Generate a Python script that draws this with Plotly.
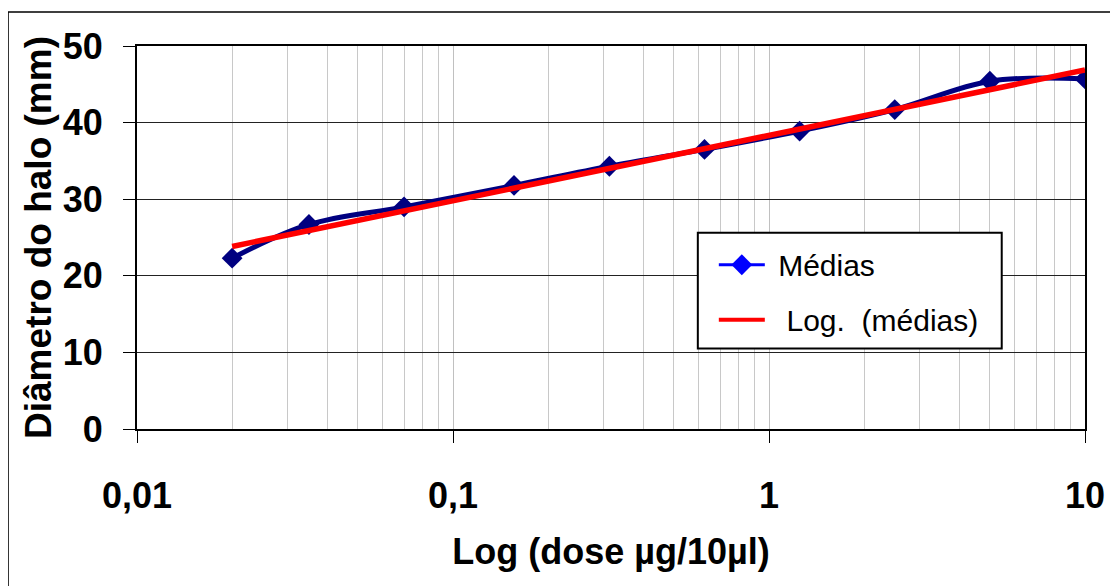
import numpy as np
import plotly.graph_objects as go

# ---- data ----
dose = [0.02, 0.035, 0.07, 0.156, 0.3125, 0.625, 1.25, 2.5, 5, 10]
medias = [22.3, 26.7, 29.0, 31.8, 34.3, 36.5, 38.9, 41.7, 45.4, 45.7]
x_tickvals = [0.01, 0.1, 1, 10]
x_ticktext = ["0,01", "0,1", "1", "10"]
y_tickvals = [0, 10, 20, 30, 40, 50]

# logarithmic trend line (least squares on ln(x)), like the spreadsheet's "Log." trendline
a, b = np.polyfit(np.log(dose), medias, 1)
trend_x = [min(dose), max(dose)]
trend_y = [a * np.log(v) + b for v in trend_x]

FONT = "Arial, 'Liberation Sans', sans-serif"
OFF = 8  # browser body margin
W, H = 1118 - OFF, 586 - OFF
# plot area in page pixels: x 137..1085.3, y 46..429.5
ML = 137 - OFF
MT = 46 - OFF
MR = W - (1085.3 - OFF)
MB = H - (429.5 - OFF)
PW, PH = W - ML - MR, H - MT - MB


def px(xpage):
    return (xpage - OFF - ML) / PW


def py(ypage):
    return (H - MB - (ypage - OFF)) / PH


fig = go.Figure()

# data series (drawn), no legend
fig.add_trace(go.Scatter(
    x=dose, y=medias, mode="lines+markers", name="Médias", showlegend=False,
    line=dict(color="#000080", width=5, shape="spline", smoothing=1),
    marker=dict(symbol="diamond", size=16, color="#000080"),
))
fig.add_trace(go.Scatter(
    x=trend_x, y=trend_y, mode="lines", name="Log. (médias)", showlegend=False,
    line=dict(color="#FF0000", width=5.5),
))

# legend entries (legend swatches use brighter colours in the reference)
fig.add_trace(go.Scatter(
    x=[None], y=[None], mode="lines+markers", name="\u00a0Médias", legendgroup="a",
    line=dict(color="#0000FF", width=3),
    marker=dict(symbol="diamond", size=22, color="#0000FF"),
))
fig.add_trace(go.Scatter(
    x=[None], y=[None], mode="lines", name="\u00a0\u00a0Log.\u00a0\u00a0(médias)", legendgroup="b",
    line=dict(color="#FF0000", width=4),
))

fig.update_layout(
    width=W, height=H,
    margin=dict(l=ML, r=MR, t=MT, b=MB, autoexpand=False),
    paper_bgcolor="white", plot_bgcolor="white",
    font=dict(family=FONT, color="black"),
    showlegend=True,
    legend=dict(
        x=px(714), y=py(239), xanchor="left", yanchor="top",
        bgcolor="rgba(0,0,0,0)", borderwidth=0,
        font=dict(family=FONT, size=30, color="black"),
        itemwidth=46, tracegroupgap=13, traceorder="grouped",
    ),
    xaxis=dict(
        type="log", range=[-2, 1],
        tickvals=x_tickvals, ticktext=x_ticktext,
        ticks="outside", ticklen=12, tickwidth=1, tickcolor="black",
        ticklabelstandoff=22,
        tickfont=dict(family=FONT, size=36, color="black", weight="bold"),
        showline=True, linecolor="black", linewidth=2, mirror=True,
        showgrid=True, gridcolor="#c0c0c0", gridwidth=1,
        minor=dict(dtick="D1", showgrid=True, gridcolor="#c8c8c8", gridwidth=1, ticks=""),
        zeroline=False,
        title=dict(text="Log (dose µg/10µl)", standoff=24,
                   font=dict(family=FONT, size=36, color="black", weight="bold")),
    ),
    yaxis=dict(
        range=[0, 50], tickvals=y_tickvals,
        ticks="outside", ticklen=12, tickwidth=1, tickcolor="black",
        ticklabelstandoff=13,
        tickfont=dict(family=FONT, size=36, color="black", weight="bold"),
        showline=True, linecolor="black", linewidth=2, mirror=True,
        showgrid=True, gridcolor="#222222", gridwidth=1,
        zeroline=False,
        title=dict(text="Diâmetro do halo (mm)", standoff=0,
                   font=dict(family=FONT, size=37, color="black", weight="bold")),
    ),
    shapes=[
        # outer chart frame
        dict(type="rect", xref="paper", yref="paper",
             x0=px(8), x1=1.5, y0=-1.0, y1=py(12),
             line=dict(color="black", width=1.5), fillcolor="rgba(0,0,0,0)", layer="above"),
        # legend box
        dict(type="rect", xref="paper", yref="paper",
             x0=px(698), x1=px(1002), y0=py(349), y1=py(233),
             line=dict(color="black", width=2), fillcolor="white", layer="above"),
    ],
)

fig.write_html("out.html")
